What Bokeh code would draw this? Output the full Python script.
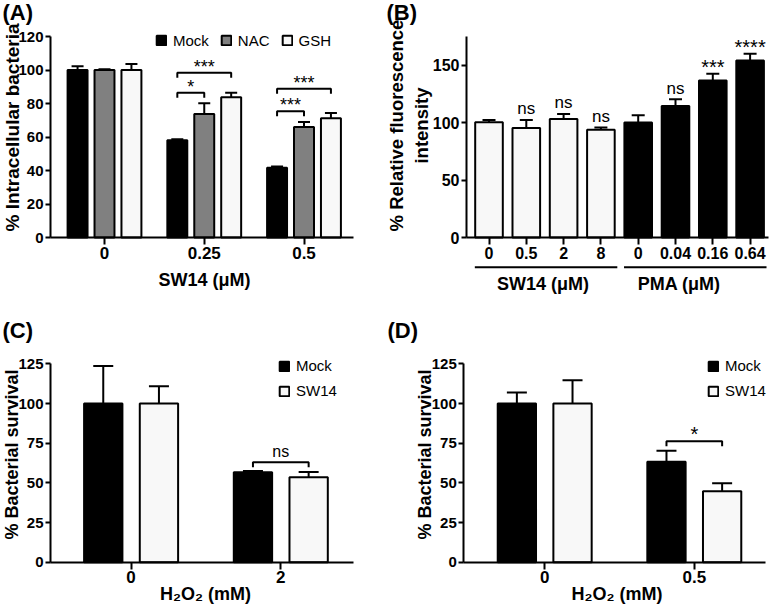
import math
from bokeh.plotting import figure
from bokeh.layouts import gridplot
from bokeh.models import (ColumnDataSource, FixedTicker, Whisker, TeeHead, Range1d, LinearAxis)
from bokeh.core.properties import value
from bokeh.embed import file_html
from bokeh.resources import INLINE

FONT = "Liberation Sans"

# ---------------- data ----------------
# (A) intracellular bacteria
a_groups = ["0", "0.25", "0.5"]
a_series = ["Mock", "NAC", "GSH"]
a_mock = [100.0, 58.0, 41.6]
a_mock_err = [2.3, 0.6, 0.8]
a_nac = [100.0, 73.8, 65.9]
a_nac_err = [0.4, 6.4, 3.0]
a_gsh = [100.0, 83.8, 71.2]
a_gsh_err = [3.6, 2.6, 3.2]
a_br_group = [1, 1, 2, 2]
a_br_from = [0, 0, 0, 0]
a_br_to = [1, 2, 1, 2]
a_br_level = [86.4, 98.3, 75.4, 88.8]
a_br_text = ["*", "***", "***", "***"]

# (B) relative fluorescence intensity
b_labels = ["0", "0.5", "2", "8", "0", "0.04", "0.16", "0.64"]
b_vals = [100.5, 95.5, 103.4, 94.0, 100.2, 114.7, 136.9, 154.3]
b_errs = [2.0, 7.0, 4.4, 2.0, 6.4, 5.8, 5.8, 5.9]
b_sig = ["", "ns", "ns", "ns", "", "ns", "***", "****"]
b_group_names = ["SW14 (μM)", "PMA (μM)"]
b_group_first = [0, 4]
b_group_last = [3, 7]
b_group_label_x = [1.45, 5.1]

# (C) bacterial survival, H2O2 2 mM
c_groups = ["0", "2"]
c_series = ["Mock", "SW14"]
c_mock = [100.0, 56.7]
c_mock_err = [23.6, 0.8]
c_sw14 = [100.0, 53.6]
c_sw14_err = [10.8, 3.3]
c_br_group = [1]
c_br_level = [63.0]
c_br_text = ["ns"]

# (D) bacterial survival, H2O2 0.5 mM
d_groups = ["0", "0.5"]
d_series = ["Mock", "SW14"]
d_mock = [100.0, 63.3]
d_mock_err = [6.9, 7.0]
d_sw14 = [100.0, 44.7]
d_sw14_err = [14.6, 5.1]
d_br_group = [1]
d_br_level = [76.2]
d_br_text = ["*"]

WHITE = "#f8f8f8"
GRAY = "#808080"
BLACK = "black"


class Panel:
    """A figure whose frame covers the whole canvas; px <-> data helpers."""

    def __init__(self, w, h, ox, sx, oy, sy):
        self.w, self.h = w, h
        self.ox, self.sx, self.oy, self.sy = ox, sx, oy, sy
        self.p = figure(width=w, height=h,
                        x_range=Range1d(-ox / sx, (w - ox) / sx),
                        y_range=Range1d((oy - h) / sy, oy / sy),
                        output_backend="svg", toolbar_location=None,
                        x_axis_location=None, y_axis_location=None,
                        min_border=0)
        self.p.outline_line_color = None
        self.p.xgrid.visible = False
        self.p.ygrid.visible = False

    def dx(self, ix):
        return (ix - self.ox) / self.sx

    def dy(self, iy):
        return (self.oy - iy) / self.sy

    def axes(self, y_axis_px, x_right_px, y_top, yticks, xticks, xlabels, ysize, xsize):
        xa = LinearAxis(fixed_location=0, bounds=(self.dx(y_axis_px), self.dx(x_right_px)),
                        ticker=FixedTicker(ticks=xticks),
                        major_label_overrides={t: l for t, l in zip(xticks, xlabels)})
        ya = LinearAxis(fixed_location=self.dx(y_axis_px), bounds=(0, y_top),
                        ticker=FixedTicker(ticks=yticks))
        for ax in (xa, ya):
            ax.axis_line_width = 2
            ax.axis_line_color = "black"
            ax.major_tick_line_width = 2
            ax.major_tick_line_color = "black"
            ax.major_tick_in = 0
            ax.minor_tick_line_color = None
            ax.major_label_text_font = FONT
            ax.major_label_text_font_style = "bold"
            ax.major_label_text_color = "black"
            ax.major_label_standoff = 2
        xa.major_tick_out = 7
        xa.major_label_text_font_size = xsize
        ya.major_tick_out = 5
        ya.major_label_text_font_size = ysize
        self.p.add_layout(xa, "below")
        self.p.add_layout(ya, "left")

    def text(self, ix, iy, txt, size, bold=True, angle=0.0, align="center", baseline="middle"):
        self.p.text(x=[self.dx(ix)], y=[self.dy(iy)], text=[txt], angle=angle,
                    text_align=align, text_baseline=baseline,
                    text_font=value(FONT), text_font_size=value(size),
                    text_font_style="bold" if bold else "normal", text_color="black")

    def legend(self, left_px, bottom_px, orientation, spacing, label_height):
        lg = self.p.legend[0]
        lg.location = (left_px, self.h - bottom_px)
        lg.orientation = orientation
        lg.padding = 0
        lg.margin = 0
        lg.spacing = spacing
        lg.border_line_color = None
        lg.background_fill_alpha = 0
        lg.glyph_width = 12
        lg.glyph_height = 12
        lg.label_standoff = 6
        lg.label_height = label_height
        lg.label_text_font = FONT
        lg.label_text_font_size = "15px"
        lg.label_text_color = "black"


def add_err(p, xs, vals, errs, head):
    src = ColumnDataSource(dict(x=xs, lo=vals, hi=[v + e for v, e in zip(vals, errs)]))
    p.add_layout(Whisker(source=src, base="x", lower="lo", upper="hi",
                         dimension="height", line_color="black", line_width=2,
                         lower_head=None,
                         upper_head=TeeHead(size=head, line_width=2, line_color="black")))


def add_brackets(p, x1, x2, levels, drop, texts, size, yoff):
    p.multi_line(xs=[[a, a, b, b] for a, b in zip(x1, x2)],
                 ys=[[l - drop, l, l, l - drop] for l in levels],
                 line_color="black", line_width=2)
    p.text(x=[(a + b) / 2 for a, b in zip(x1, x2)], y=levels, text=texts,
           text_align="center", text_baseline="alphabetic",
           text_font=value(FONT), text_font_size=value(size),
           y_offset=yoff, text_color="black")


# ---------------- (A) ----------------
A = Panel(385, 300, ox=104, sx=99.75, oy=237, sy=1.675)
A.axes(50, 353, 120, list(range(0, 121, 20)), list(range(len(a_groups))), a_groups, "15px", "17px")
A_OFF = [-0.27, 0.0, 0.27]
A_W = 0.20
a_vals = [a_mock, a_nac, a_gsh]
a_errs = [a_mock_err, a_nac_err, a_gsh_err]
a_fill = [BLACK, GRAY, WHITE]
for s, name in enumerate(a_series):
    xs = [g + A_OFF[s] for g in range(len(a_groups))]
    A.p.vbar(x=xs, top=a_vals[s], width=A_W, bottom=0, fill_color=a_fill[s],
             line_color="black", line_width=2, legend_label=name)
    add_err(A.p, xs, a_vals[s], a_errs[s], 12)
add_brackets(A.p,
             [g + A_OFF[f] for g, f in zip(a_br_group, a_br_from)],
             [g + A_OFF[t] for g, t in zip(a_br_group, a_br_to)],
             a_br_level, 3.0, a_br_text, "18px", -6)
A.legend(155, 48.5, "horizontal", 11, 14)
A.text(12, 127, "% Intracellular bacteria", "19px", angle=math.pi / 2)
A.text(204, 279, "SW14 (μM)", "18px")
A.text(2, 12, "(A)", "22px", align="left")

# ---------------- (B) ----------------
B = Panel(386, 300, ox=103.5, sx=37.3, oy=237, sy=1.1467)
b_x = list(range(len(b_labels)))
B.axes(81, 383, 175, [0, 50, 100, 150], b_x, b_labels, "16px", "16px")
B_W = 0.74
b_fill_by_group = [WHITE, BLACK]
b_fill = []
for i in b_x:
    gi = [k for k in range(len(b_group_first)) if b_group_first[k] <= i <= b_group_last[k]][0]
    b_fill.append(b_fill_by_group[gi])
B.p.vbar(x=b_x, top=b_vals, width=B_W, bottom=0, fill_color=b_fill,
         line_color="black", line_width=2)
add_err(B.p, b_x, b_vals, b_errs, 13)
sx, sy, st, ss, so = [], [], [], [], []
for i, t in enumerate(b_sig):
    if not t:
        continue
    sx.append(b_x[i])
    sy.append(b_vals[i] + b_errs[i])
    st.append(t)
    ss.append("17px" if t == "ns" else "20px")
    so.append(-11 if t == "ns" else -7)
B.p.text(x=sx, y=sy, text=st, text_align="center", text_baseline="alphabetic",
         text_font=value(FONT), text_font_size=ss, y_offset=so, text_color="black")
line_y = B.dy(266.7)
B.p.segment(x0=[f - 0.38 for f in b_group_first], x1=[l + 0.44 for l in b_group_last],
            y0=[line_y] * len(b_group_first), y1=[line_y] * len(b_group_first),
            line_color="black", line_width=2)
B.p.text(x=b_group_label_x, y=[B.dy(283.5)] * len(b_group_names), text=b_group_names,
         text_align="center", text_baseline="middle", text_font=value(FONT),
         text_font_size=value("18px"), text_font_style="bold", text_color="black")
B.text(11, 125, "% Relative fluorescence", "18.5px", angle=math.pi / 2)
B.text(36, 125, "intensity", "18.5px", angle=math.pi / 2)
B.text(1, 12, "(B)", "22px", align="left")

# ---------------- (C) ----------------
CD_OFF = [-0.186, 0.186]
CD_W = 0.256
cd_fill = [BLACK, WHITE]
C = Panel(385, 314, ox=130.6, sx=149.7, oy=261.7, sy=1.587)
C.axes(50, 353, 125, list(range(0, 126, 25)), list(range(len(c_groups))), c_groups, "15px", "17px")
c_vals = [c_mock, c_sw14]
c_errs = [c_mock_err, c_sw14_err]
for s, name in enumerate(c_series):
    xs = [g + CD_OFF[s] for g in range(len(c_groups))]
    C.p.vbar(x=xs, top=c_vals[s], width=CD_W, bottom=0, fill_color=cd_fill[s],
             line_color="black", line_width=2, legend_label=name)
    add_err(C.p, xs, c_vals[s], c_errs[s], 20)
add_brackets(C.p, [g + CD_OFF[0] for g in c_br_group], [g + CD_OFF[1] for g in c_br_group],
             c_br_level, 3.2, c_br_text, "16px", -11)
C.legend(278, 100, "vertical", 6, 19)
C.text(11.5, 154, "% Bacterial survival", "18px", angle=math.pi / 2)
C.text(205, 293, "H₂O₂ (mM)", "18px")
C.text(2, 30, "(C)", "22px", align="left")

# ---------------- (D) ----------------
D = Panel(386, 314, ox=159.2, sx=149.6, oy=261.7, sy=1.587)
D.axes(78.3, 380, 125, list(range(0, 126, 25)), list(range(len(d_groups))), d_groups, "15px", "17px")
d_vals = [d_mock, d_sw14]
d_errs = [d_mock_err, d_sw14_err]
for s, name in enumerate(d_series):
    xs = [g + CD_OFF[s] for g in range(len(d_groups))]
    D.p.vbar(x=xs, top=d_vals[s], width=CD_W, bottom=0, fill_color=cd_fill[s],
             line_color="black", line_width=2, legend_label=name)
    add_err(D.p, xs, d_vals[s], d_errs[s], 20)
add_brackets(D.p, [g + CD_OFF[0] for g in d_br_group], [g + CD_OFF[1] for g in d_br_group],
             d_br_level, 3.2, d_br_text, "20px", -7)
D.legend(322, 100, "vertical", 6, 19)
D.text(39, 154, "% Bacterial survival", "18px", angle=math.pi / 2)
D.text(231.5, 293, "H₂O₂ (mM)", "18px")
D.text(2, 30, "(D)", "22px", align="left")

grid = gridplot([[A.p, B.p], [C.p, D.p]], toolbar_location=None)
open("out.html", "w").write(file_html(grid, INLINE))
